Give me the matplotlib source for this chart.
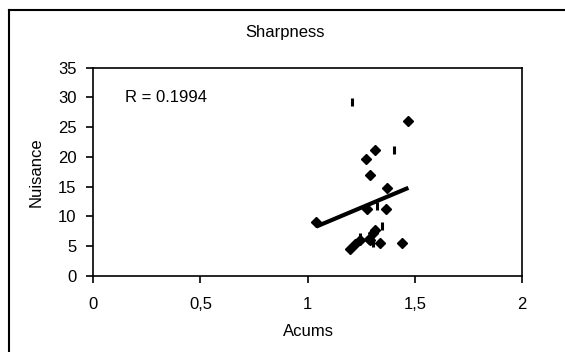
import matplotlib
matplotlib.use("Agg")
import matplotlib.pyplot as plt
from matplotlib.lines import Line2D

plt.rcParams['font.family'] = ['Liberation Sans', 'DejaVu Sans']

# Data
diamond_x = [1.47, 1.315, 1.273, 1.292, 1.370, 1.279, 1.365, 1.040, 1.315,
             1.290, 1.338, 1.440, 1.198, 1.222, 1.245, 1.307, 1.285]
diamond_y = [26.0, 21.1, 19.6, 17.0, 14.8, 11.3, 11.3, 9.0, 7.7,
             6.0, 5.6, 5.6, 4.6, 5.4, 6.0, 7.3, 6.2]
dash_x = [1.209, 1.405, 1.323, 1.348, 1.245, 1.304]
dash_y = [29.2, 21.2, 11.7, 8.4, 6.6, 5.5]
trend_x = [1.04, 1.47]
trend_y = [8.3, 14.8]

x_ticks = [0, 0.5, 1, 1.5, 2]
x_tick_labels = ['0', '0,5', '1', '1,5', '2']
y_ticks = [0, 5, 10, 15, 20, 25, 30, 35]

title = 'Sharpness'
x_label = 'Acums'
y_label = 'Nuisance'
r_text = 'R = 0.1994'

FS = 12

fig = plt.figure(figsize=(5.65, 3.52), dpi=100)
ax = fig.add_axes([93.3 / 565, (352 - 276) / 352, (522 - 93.3) / 565, (276 - 67.5) / 352])

ax.plot(diamond_x, diamond_y, linestyle='none', marker='D', markersize=5.2,
        color='black', zorder=3)
ax.plot(dash_x, dash_y, linestyle='none', marker='|', markersize=6,
        markeredgewidth=2.2, color='black', zorder=3)
ax.plot(trend_x, trend_y, color='black', linewidth=3, solid_capstyle='butt', zorder=2)

ax.set_xlim(0, 2)
ax.set_ylim(0, 35)
ax.set_xticks(x_ticks)
ax.set_xticklabels(x_tick_labels)
ax.set_yticks(y_ticks)
ax.tick_params(axis='both', direction='out', length=5, width=1.2,
               labelsize=FS, colors='black')
ax.tick_params(axis='x', pad=10)
ax.tick_params(axis='y', pad=7)
for s in ax.spines.values():
    s.set_linewidth(1.2)
    s.set_color('black')

ax.text(0.075, 0.855, r_text, transform=ax.transAxes, fontsize=FS,
        ha='left', va='center')

fig.text(308 / 565, 1 - 331 / 352, x_label, fontsize=FS, ha='center', va='center')
fig.text(36 / 565, 1 - 172 / 352, y_label, fontsize=FS, ha='center', va='center',
         rotation=90)
fig.text(285 / 565, 1 - 32 / 352, title, fontsize=FS, ha='center', va='center')

# Outer chart border (left and top visible)
fig.add_artist(Line2D([8.5 / 565, 8.5 / 565], [0, 1 - 10 / 352], transform=fig.transFigure,
                      color='black', linewidth=1.5))
fig.add_artist(Line2D([8.5 / 565, 1], [1 - 10 / 352, 1 - 10 / 352], transform=fig.transFigure,
                      color='black', linewidth=1.5))

fig.savefig('out.png', dpi=100)
